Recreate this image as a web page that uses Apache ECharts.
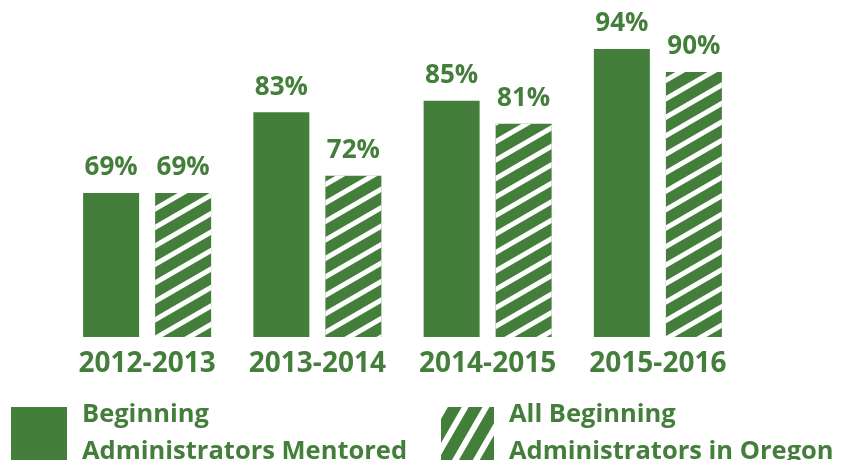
<!DOCTYPE html>
<html>
<head>
<meta charset="utf-8">
<script src="https://cdn.jsdelivr.net/npm/echarts@6/dist/echarts.min.js"></script>
<style>html,body{margin:0;padding:0;background:#fff;}#c{width:845px;height:460px;}</style>
</head>
<body>
<div id="c"></div>
<script>
const categories = ['2012-2013', '2013-2014', '2014-2015', '2015-2016'];
const mentored = [69, 83, 85, 94];
const allOregon = [69, 72, 81, 90];
const seriesNames = ['Beginning Administrators Mentored', 'All Beginning Administrators in Oregon'];
const legendLines = [['Beginning', 'Administrators Mentored'], ['All Beginning', 'Administrators in Oregon']];

const GREEN = '#437E3A';
const hatch = {
  symbol: 'rect', symbolSize: 1, color: '#ffffff',
  dashArrayX: [1, 0], dashArrayY: [5, 11], rotation: -Math.PI / 6
};
const legendHatch = {
  symbol: 'rect', symbolSize: 1, color: '#ffffff',
  dashArrayX: [1, 0], dashArrayY: [6, 12], rotation: -Math.PI / 3
};

const chart = echarts.init(document.getElementById('c'), null, {renderer: 'canvas'});
const labelCfg = {
  show: true, position: 'top', distance: 12,
  formatter: '{c}%', color: GREEN, fontFamily: 'Open Sans', fontWeight: 'bold', fontSize: 26
};
const legendBase = {
  top: 407, itemHeight: 56, icon: 'rect', selectedMode: false,
  formatter: () => '', textStyle: {fontSize: 1}, padding: 0
};
chart.setOption({
  animation: false,
  grid: {left: 62, width: 681, top: 14.4, bottom: 123},
  xAxis: {
    type: 'category', data: categories,
    axisLine: {show: false}, axisTick: {show: false},
    axisLabel: {interval: 0, color: GREEN, fontFamily: 'Open Sans', fontWeight: 'bold', fontSize: 28, margin: 13}
  },
  yAxis: {type: 'value', min: 44, max: 100, show: false, splitLine: {show: false}},
  legend: [
    Object.assign({left: 11, itemWidth: 56, data: [{name: seriesNames[0]}]}, legendBase),
    Object.assign({left: 441, itemWidth: 53, data: [{name: seriesNames[1], itemStyle: {decal: legendHatch}}]}, legendBase)
  ],
  graphic: [
    {type: 'text', left: 82, top: 396, style: {text: legendLines[0].join('\n'), fill: GREEN, font: 'bold 25.5px "Open Sans"', lineHeight: 37}},
    {type: 'text', left: 509, top: 396, style: {text: legendLines[1].join('\n'), fill: GREEN, font: 'bold 25.5px "Open Sans"', lineHeight: 37}}
  ],
  series: [
    {name: seriesNames[0], type: 'bar', data: mentored, barWidth: 56, barGap: '28.6%',
     itemStyle: {color: GREEN}, label: labelCfg},
    {name: seriesNames[1], type: 'bar', data: allOregon, barWidth: 56,
     itemStyle: {color: GREEN, decal: hatch}, label: labelCfg}
  ]
});
</script>
</body>
</html>
